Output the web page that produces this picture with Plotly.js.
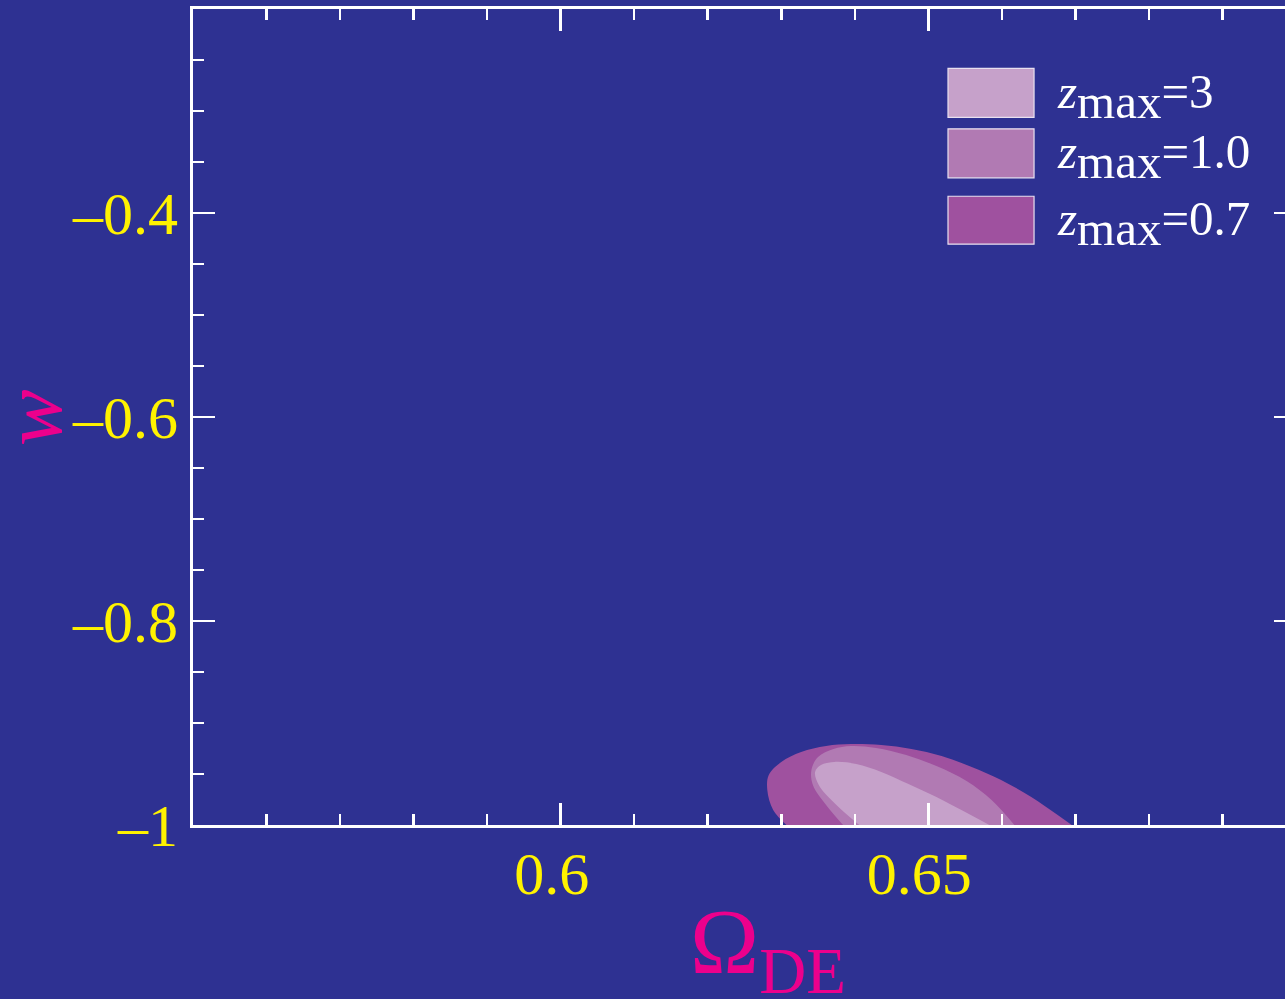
<!DOCTYPE html>
<html>
<head>
<meta charset="utf-8">
<script src="https://cdn.plot.ly/plotly-3.0.1.min.js"></script>
<style>
html, body { margin: 0; padding: 0; overflow: hidden; background: #2e3192; }
#chart { width: 1297px; height: 999px; }
</style>
</head>
<body>
<div id="chart"></div>
<script>
// Confidence contours (boundary points), clipped at w = -1
const zmax07_omega = [0.6307, 0.6289, 0.6281, 0.6283, 0.6300, 0.6327, 0.6361, 0.6395, 0.6436, 0.6477, 0.6518, 0.6559, 0.6599, 0.6640, 0.6674, 0.6695];
const zmax07_w     = [-1.0, -0.9853, -0.9657, -0.9510, -0.9382, -0.9284, -0.9225, -0.9206, -0.9216, -0.9255, -0.9324, -0.9431, -0.9559, -0.9725, -0.9892, -1.0];

const zmax10_omega = [0.6384, 0.6361, 0.6343, 0.6341, 0.6350, 0.6371, 0.6395, 0.6429, 0.6470, 0.6511, 0.6552, 0.6586, 0.6617];
const zmax10_w     = [-1.0, -0.9804, -0.9608, -0.9461, -0.9333, -0.9255, -0.9225, -0.9245, -0.9314, -0.9422, -0.9569, -0.9755, -1.0];

const zmax3_omega = [0.6406, 0.6375, 0.6351, 0.6346, 0.6354, 0.6372, 0.6402, 0.6436, 0.6473, 0.6511, 0.6545, 0.6583];
const zmax3_w     = [-1.0, -0.9804, -0.9608, -0.9480, -0.9412, -0.9382, -0.9402, -0.9480, -0.9598, -0.9725, -0.9853, -1.0];

const seriesNames  = ['z<sub>max</sub>=3', 'z<sub>max</sub>=1.0', 'z<sub>max</sub>=0.7'];
const legendLabels = ['3', '1.0', '0.7'];
const seriesColors = ['#c6a1ca', '#b17ab3', '#9f519f'];

const xTickVals = [0.6, 0.65];
const xTickText = ['0.6', '0.65'];
const yTickVals = [-1, -0.8, -0.6, -0.4];
const yTickText = ['\u20131', '\u20130.8', '\u20130.6', '\u20130.4'];

const BG = '#2e3192';
const YELLOW = '#fff200';
const MAGENTA = '#ec008c';
const SERIF = '"Liberation Serif", "Times New Roman", serif';

const traces = [
  { x: zmax07_omega, y: zmax07_w, name: seriesNames[2], color: seriesColors[2] },
  { x: zmax10_omega, y: zmax10_w, name: seriesNames[1], color: seriesColors[1] },
  { x: zmax3_omega,  y: zmax3_w,  name: seriesNames[0], color: seriesColors[0] }
].map(s => ({
  type: 'scatter', mode: 'lines', x: s.x, y: s.y, name: s.name,
  fill: 'toself', fillcolor: s.color,
  line: { width: 0, color: s.color, shape: 'spline', smoothing: 1 },
  hoverinfo: 'skip', showlegend: false
}));

const axisCommon = {
  showline: true, linecolor: 'white', linewidth: 3, mirror: 'allticks',
  ticks: 'inside', ticklen: 22, tickwidth: 2.5, tickcolor: 'white',
  showgrid: false, zeroline: false,
  tickfont: { family: SERIF, size: 60, color: YELLOW },
  tickmode: 'array'
};

// manual legend (large boxes)
const boxX0 = 0.6845, boxX1 = 0.7625;
const boxY = [[0.8672, 0.9272], [0.7931, 0.8531], [0.7118, 0.7705]];
const LEG_FS = 49;
const shapes = [];
const annotations = [];
for (let i = 0; i < 3; i++) {
  shapes.push({
    type: 'rect', xref: 'paper', yref: 'paper',
    x0: boxX0, x1: boxX1, y0: boxY[i][0], y1: boxY[i][1],
    fillcolor: seriesColors[i], line: { color: '#e8e0f0', width: 1.2 }
  });
  annotations.push({
    xref: 'paper', yref: 'paper', x: 0.7815, y: (boxY[i][0] + boxY[i][1]) / 2 - 0.004,
    xanchor: 'left', yanchor: 'middle', showarrow: false,
    text: '<i>z</i><sub><span style="font-size:' + LEG_FS + 'px">max</span></sub>=' + legendLabels[i],
    font: { family: SERIF, size: LEG_FS, color: 'white' }
  });
}
// axis titles
annotations.push({
  xref: 'paper', yref: 'paper', x: 0.521, y: -0.077, xanchor: 'center', yanchor: 'top',
  showarrow: false, text: '\u03A9<sub>DE</sub>',
  font: { family: SERIF, size: 93, color: MAGENTA }
});
annotations.push({
  xref: 'paper', yref: 'paper', x: -0.146, y: 0.5, xanchor: 'center', yanchor: 'middle',
  showarrow: false, text: '<i>w</i>', textangle: -90,
  font: { family: SERIF, size: 85, color: MAGENTA }
});

const layout = {
  width: 1297, height: 999,
  paper_bgcolor: BG, plot_bgcolor: BG,
  margin: { l: 193, r: 1, t: 8.5, b: 173.5 },
  showlegend: false,
  xaxis: Object.assign({}, axisCommon, {
    range: [0.55, 0.70], tickvals: xTickVals, ticktext: xTickText,
    ticklabelshift: -9, ticklabelstandoff: -6,
    minor: { dtick: 0.01, tick0: 0.55, ticks: 'inside', ticklen: 11, tickwidth: 2.5, tickcolor: 'white' }
  }),
  yaxis: Object.assign({}, axisCommon, {
    range: [-1, -0.2], tickvals: yTickVals, ticktext: yTickText,
    minor: { dtick: 0.05, tick0: -1, ticks: 'inside', ticklen: 11, tickwidth: 2.5, tickcolor: 'white' }
  }),
  shapes: shapes,
  annotations: annotations
};

Plotly.newPlot('chart', traces, layout, { displayModeBar: false, staticPlot: true });
</script>
</body>
</html>
